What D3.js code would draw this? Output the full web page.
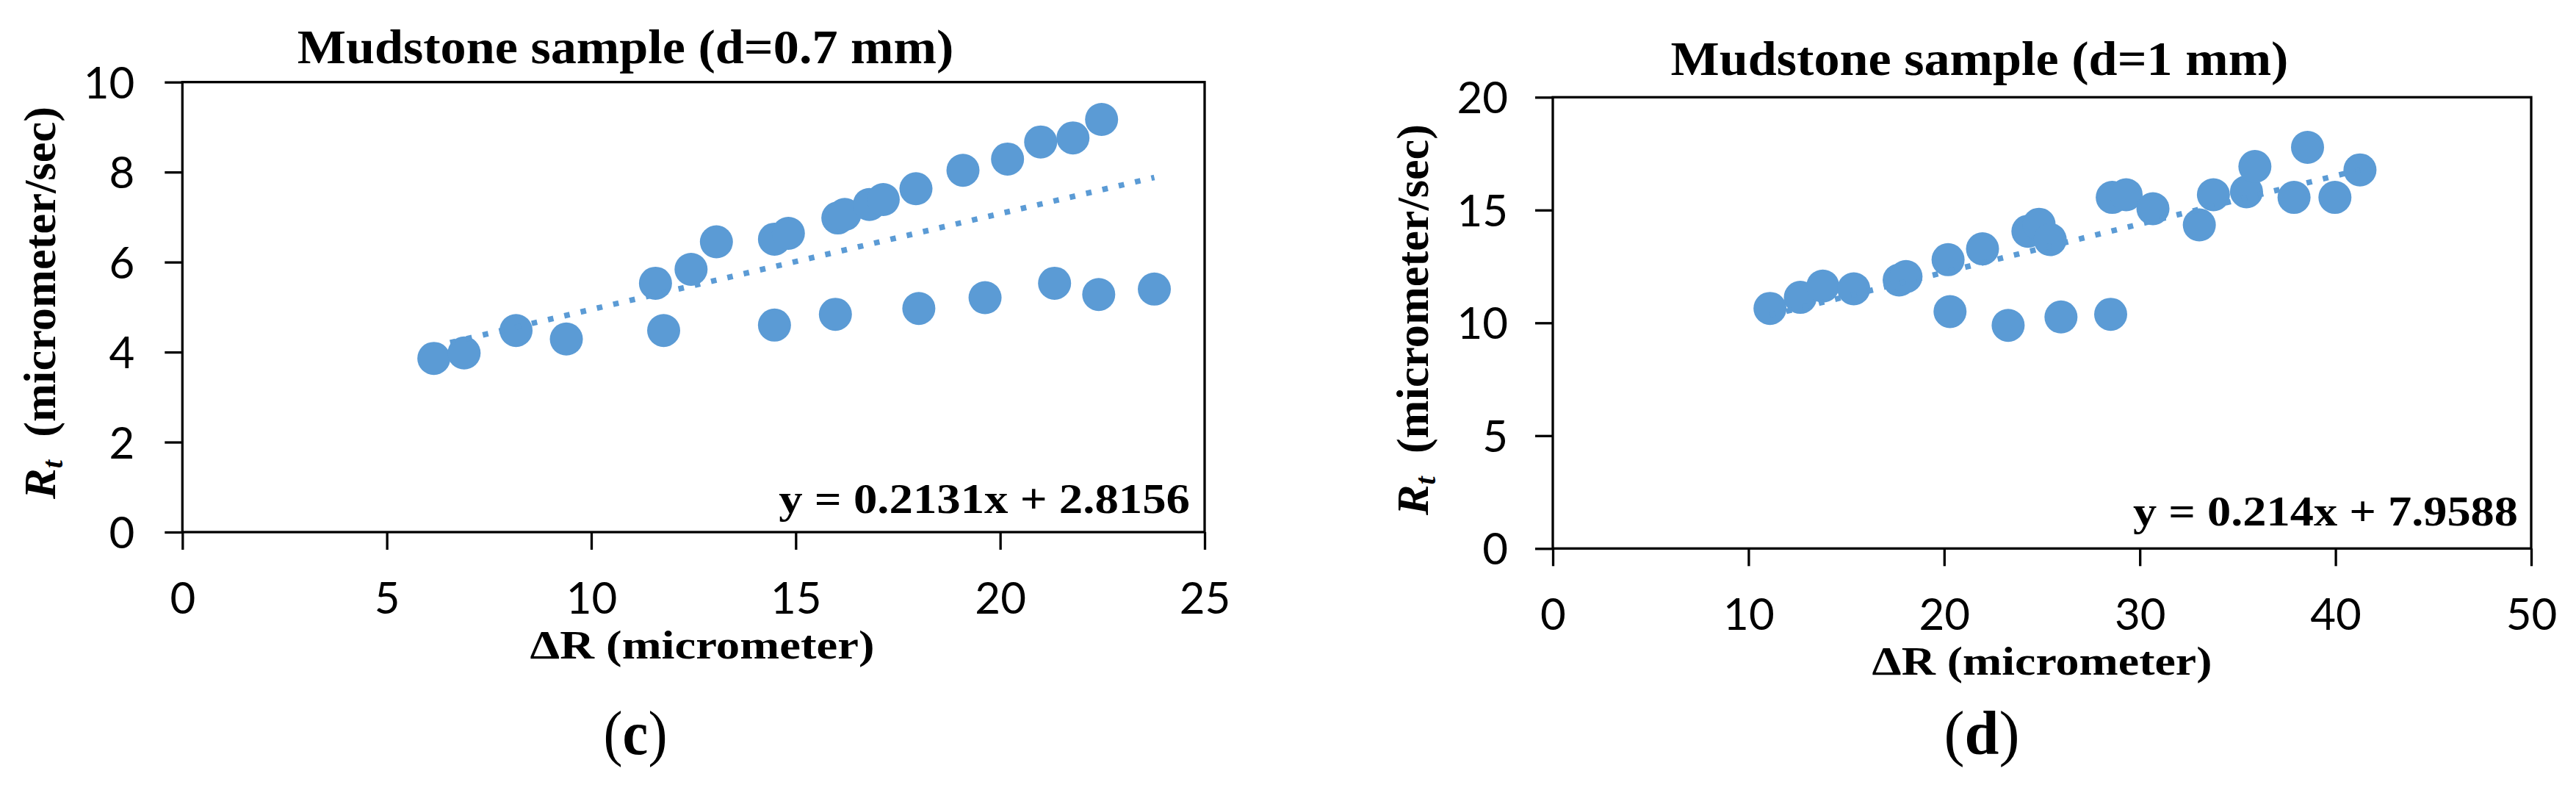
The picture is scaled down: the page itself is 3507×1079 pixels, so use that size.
<!DOCTYPE html>
<html><head><meta charset="utf-8">
<script src="https://cdn.jsdelivr.net/npm/d3@7"></script>
<style>body{margin:0;background:#fff}svg{display:block;background:#fff}</style>
</head><body>
<svg id="chart" width="3507" height="1079"></svg>
<script>
// ---------- Data: panel (c), d = 0.7 mm ----------
const cDeltaR = [6.15, 6.89, 8.16, 9.39, 11.57, 11.77, 12.44, 13.06, 14.48, 14.82, 14.48, 16.03, 16.20, 16.80, 17.14, 17.94, 19.09, 20.18, 20.99, 21.78, 22.48, 15.97, 18.01, 19.63, 21.33, 22.41, 23.77];
const cRt     = [3.86, 3.98, 4.48, 4.29, 5.53, 4.48, 5.84, 6.45, 6.51, 6.64, 4.60, 6.98, 7.06, 7.28, 7.39, 7.63, 8.04, 8.29, 8.67, 8.76, 9.17, 4.84, 4.97, 5.21, 5.53, 5.28, 5.40];
const cXTicks = [0, 5, 10, 15, 20, 25];
const cYTicks = [0, 2, 4, 6, 8, 10];
const cSlope = 0.2131, cIntercept = 2.8156;
const cTitle = "Mudstone sample (d=0.7 mm)";
const cEquation = "y = 0.2131x + 2.8156";
const cLetter = "c";

// ---------- Data: panel (d), d = 1 mm ----------
const dDeltaR = [11.10, 12.65, 13.80, 15.38, 17.70, 18.05, 20.20, 20.30, 21.96, 24.28, 24.85, 25.42, 28.59, 29.30, 30.67, 33.04, 33.76, 35.45, 35.88, 37.88, 38.57, 39.97, 41.25, 23.27, 25.97, 28.51];
const dRt     = [10.64, 11.13, 11.63, 11.51, 11.90, 12.05, 12.80, 10.50, 13.28, 14.06, 14.37, 13.69, 15.56, 15.68, 15.06, 14.34, 15.68, 15.81, 16.93, 15.56, 17.78, 15.56, 16.78, 9.89, 10.26, 10.38];
const dXTicks = [0, 10, 20, 30, 40, 50];
const dYTicks = [0, 5, 10, 15, 20];
const dSlope = 0.214, dIntercept = 7.9588;
const dTitle = "Mudstone sample (d=1 mm)";
const dEquation = "y = 0.214x + 7.9588";
const dLetter = "d";

const xLabelText = "\u0394R (micrometer)";
const yLabelRest = " (micrometer/sec)";

// ---------- Layout ----------
const panels = [
  { xs: cDeltaR, ys: cRt, xt: cXTicks, yt: cYTicks, slope: cSlope, icpt: cIntercept,
    title: cTitle, eq: cEquation, letter: cLetter,
    left: 248.3, right: 1640, top: 111.7, bottom: 724,
    titlePos: {x: 851.5, y: 86, w: 894}, yLab: {x: 75, y: 412, w: 535},
    xLab: {x: 956, y: 896, w: 469}, eqPos: {x: 1620, y: 698, w: 560},
    letPos: {x: 865, y: 1026, w: 87}, yGap: 65 },
  { xs: dDeltaR, ys: dRt, xt: dXTicks, yt: dYTicks, slope: dSlope, icpt: dIntercept,
    title: dTitle, eq: dEquation, letter: dLetter,
    left: 2114, right: 3446, top: 132.3, bottom: 746.3,
    titlePos: {x: 2695, y: 102, w: 841}, yLab: {x: 1944, y: 435, w: 533},
    xLab: {x: 2780, y: 918, w: 463}, eqPos: {x: 3428, y: 715, w: 524},
    letPos: {x: 2698, y: 1026, w: 103}, yGap: 61 }
];

const BLUE = "#5B9BD5";
const SERIF = "'Liberation Serif','Times New Roman',serif";
const SANS = "Lato, 'Open Sans', sans-serif";
const svg = d3.select("#chart");

function fitGroup(g, textSel, targetW, extra) {
  const w = textSel.node().getBBox().width;
  const k = targetW / w;
  g.attr("transform", extra + ` scale(${k},1)`);
}

panels.forEach(p => {
  const x = d3.scaleLinear().domain([p.xt[0], p.xt[p.xt.length - 1]]).range([p.left, p.right]);
  const y = d3.scaleLinear().domain([p.yt[0], p.yt[p.yt.length - 1]]).range([p.bottom, p.top]);
  const g = svg.append("g");

  // axes
  const ya = g.append("g").attr("transform", `translate(${p.left},0)`)
    .call(d3.axisLeft(y).tickValues(p.yt).tickSize(24).tickSizeOuter(0).tickPadding(p.yGap - 24));
  const xa = g.append("g").attr("transform", `translate(0,${p.bottom})`)
    .call(d3.axisBottom(x).tickValues(p.xt).tickSize(24).tickSizeOuter(0).tickPadding(44));
  [ya, xa].forEach(a => {
    a.select(".domain").remove();
    a.selectAll(".tick line").attr("stroke", "#000").attr("stroke-width", 3.3);
    a.selectAll(".tick text").attr("fill", "#000")
      .style("font-family", SANS).style("font-size", "60px");
  });
  ya.selectAll(".tick text").attr("dy", "0.36em");
  xa.selectAll(".tick text").attr("dy", "0.71em");

  // frame
  g.append("rect").attr("x", p.left).attr("y", p.top)
    .attr("width", p.right - p.left).attr("height", p.bottom - p.top)
    .attr("fill", "none").attr("stroke", "#000").attr("stroke-width", 3.3);

  // points
  const pts = p.xs.map((v, i) => [v, p.ys[i]]);
  g.append("g").selectAll("circle").data(pts).join("circle")
    .attr("cx", d => x(d[0])).attr("cy", d => y(d[1])).attr("r", 22.5)
    .attr("fill", BLUE);

  // trend line
  const ext = d3.extent(p.xs);
  const tl = ext.map(v => [v, p.slope * v + p.icpt]);
  g.append("path").datum(tl)
    .attr("d", d3.line().x(d => x(d[0])).y(d => y(d[1])))
    .attr("fill", "none").attr("stroke", BLUE).attr("stroke-width", 7.6)
    .attr("stroke-dasharray", "7.6,15.2");

  // title
  const tg = g.append("g");
  const tt = tg.append("text").attr("text-anchor", "middle")
    .style("font-family", SERIF).style("font-weight", "bold").style("font-size", "65px")
    .text(p.title);
  fitGroup(tg, tt, p.titlePos.w, `translate(${p.titlePos.x},${p.titlePos.y})`);

  // equation
  const eg = g.append("g");
  const et = eg.append("text").attr("text-anchor", "end")
    .style("font-family", SERIF).style("font-weight", "bold").style("font-size", "56px")
    .text(p.eq);
  fitGroup(eg, et, p.eqPos.w, `translate(${p.eqPos.x},${p.eqPos.y})`);

  // x label
  const xg = g.append("g");
  const xt = xg.append("text").attr("text-anchor", "middle")
    .style("font-family", SERIF).style("font-weight", "bold").style("font-size", "54px")
    .text(xLabelText);
  fitGroup(xg, xt, p.xLab.w, `translate(${p.xLab.x},${p.xLab.y})`);

  // y label
  const yg = g.append("g");
  const yt = yg.append("text").attr("text-anchor", "middle")
    .style("font-family", SERIF).style("font-weight", "bold").style("font-size", "62px");
  yt.append("tspan").style("font-style", "italic").text("R");
  yt.append("tspan").style("font-style", "italic").style("font-size", "40px").attr("dy", 10).text("t");
  yt.append("tspan").attr("dy", -10).text("\u00a0" + yLabelRest);
  fitGroup(yg, yt, p.yLab.w, `translate(${p.yLab.x},${p.yLab.y}) rotate(-90)`);

  // panel letter
  const lg = g.append("g");
  const lt = lg.append("text").attr("text-anchor", "middle")
    .style("font-family", SERIF).style("font-size", "84px");
  lt.append("tspan").text("(");
  lt.append("tspan").style("font-weight", "bold").text(p.letter);
  lt.append("tspan").text(")");
  fitGroup(lg, lt, p.letPos.w, `translate(${p.letPos.x},${p.letPos.y})`);
});
</script>
</body></html>
